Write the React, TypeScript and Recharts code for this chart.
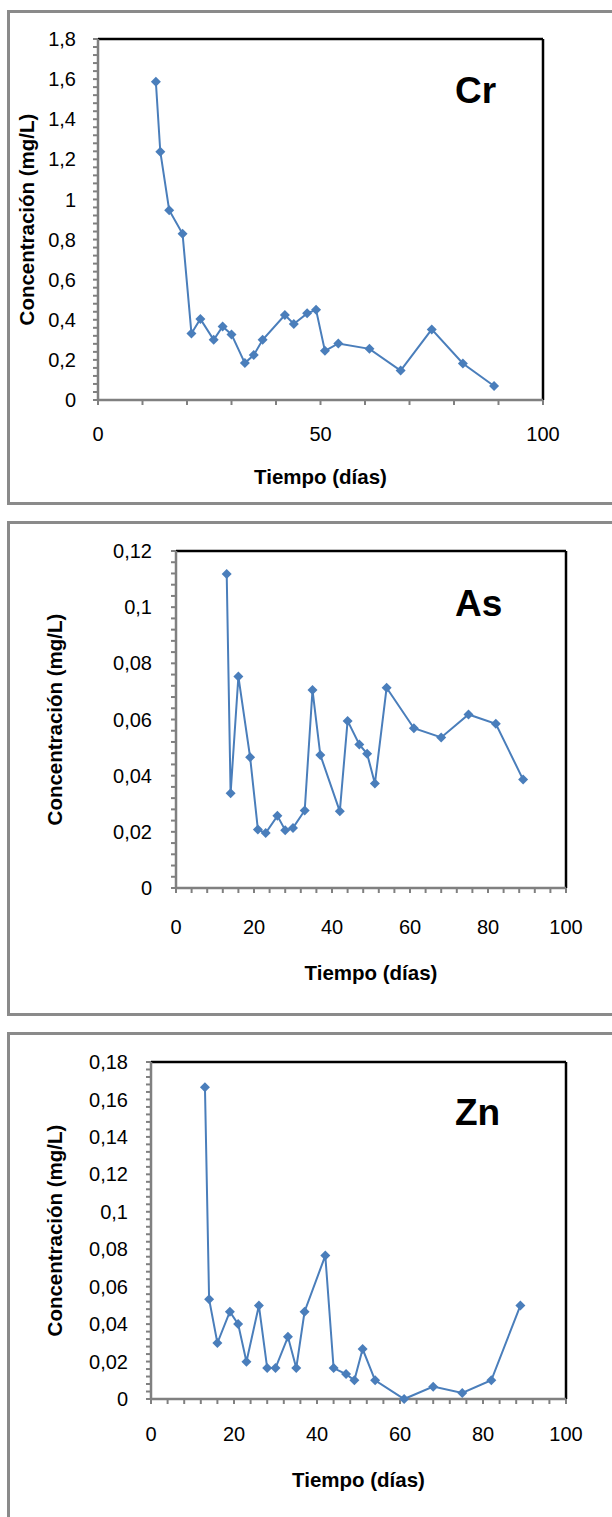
import React from 'react';
import { LineChart, Line, XAxis, YAxis, ReferenceLine, Customized } from 'recharts';

// sampling days shared by the three series
const DAYS = [13, 14, 16, 19, 21, 23, 26, 28, 30, 33, 35, 37, 42, 44, 47, 49, 51, 54, 61, 68, 75, 82, 89];

const CR = [1.587, 1.238, 0.946, 0.829, 0.332, 0.404, 0.3, 0.367, 0.327, 0.184, 0.224, 0.3, 0.424, 0.379, 0.432, 0.45, 0.245, 0.282, 0.255, 0.147, 0.352, 0.182, 0.07];
const AS = [0.1118, 0.0337, 0.0753, 0.0466, 0.0208, 0.0196, 0.0257, 0.0206, 0.0214, 0.0276, 0.0705, 0.0474, 0.0273, 0.0595, 0.0511, 0.0478, 0.0372, 0.0713, 0.0569, 0.0536, 0.0618, 0.0585, 0.0386];
const ZN = [0.1665, 0.0533, 0.0299, 0.0466, 0.04, 0.0199, 0.0499, 0.0165, 0.0165, 0.0332, 0.0165, 0.0466, 0.0766, 0.0165, 0.0133, 0.01, 0.0267, 0.01, 0, 0.0066, 0.0032, 0.01, 0.0499];

const CR_Y_LABELS = [0, 0.2, 0.4, 0.6, 0.8, 1, 1.2, 1.4, 1.6, 1.8];
const AS_Y_LABELS = [0, 0.02, 0.04, 0.06, 0.08, 0.1, 0.12];
const ZN_Y_LABELS = [0, 0.02, 0.04, 0.06, 0.08, 0.1, 0.12, 0.14, 0.16, 0.18];
const CR_X_LABELS = [0, 50, 100];
const X_LABELS = [0, 20, 40, 60, 80, 100];

const Y_TITLE = 'Concentración (mg/L)';
const X_TITLE = 'Tiempo (días)';

const FONT = '"Liberation Sans", Arial, sans-serif';
const BLUE = '#4a7ebb';
const AXIS = '#808080';
const FRAME = '#8a8a8a';

// minor ticks: five per major interval, as Excel does
const subdivide = (labels: number[]) => {
  const out: number[] = [];
  for (let i = 0; i < labels.length - 1; i++) {
    const step = (labels[i + 1] - labels[i]) / 5;
    for (let k = 0; k < 5; k++) out.push(+(labels[i] + k * step).toFixed(6));
  }
  out.push(labels[labels.length - 1]);
  return out;
};

const fmt = (labels: number[]) => (v: number) =>
  labels.some((l) => Math.abs(l - v) < 1e-9) ? String(+v.toFixed(4)).replace('.', ',') : '';

const Diamond = (props: any) => {
  const { cx, cy, index } = props;
  if (cx == null || cy == null) return null;
  const r = 5;
  return <path key={`dm-${index}`} d={`M${cx},${cy - r}L${cx + r},${cy}L${cx},${cy + r}L${cx - r},${cy}Z`} fill={BLUE} />;
};

type PanelCfg = {
  name: string;
  values: number[];
  yLabels: number[];
  xLabels: number[];
  top: number;
  height: number;
  left: number;
  right: number;
  plotTop: number;
  plotBottom: number;
  yTitleX: number;
  xTitleY: number;
  yTickMargin: number;
  xTickMargin: number;
  nameY: number;
};

const PANELS: PanelCfg[] = [
  { name: 'Cr', values: CR, yLabels: CR_Y_LABELS, xLabels: CR_X_LABELS, top: 0, height: 500, left: 98, right: 543, plotTop: 39, plotBottom: 400, yTitleX: 27, xTitleY: 484, yTickMargin: 17, xTickMargin: 22, nameY: 103 },
  { name: 'As', values: AS, yLabels: AS_Y_LABELS, xLabels: X_LABELS, top: 522, height: 490, left: 176, right: 566, plotTop: 29, plotBottom: 366, yTitleX: 55, xTitleY: 458, yTickMargin: 19, xTickMargin: 27, nameY: 94 },
  { name: 'Zn', values: ZN, yLabels: ZN_Y_LABELS, xLabels: X_LABELS, top: 1033, height: 484, left: 151, right: 566, plotTop: 29, plotBottom: 366, yTitleX: 55, xTitleY: 454, yTickMargin: 18, xTickMargin: 23, nameY: 92 },
];

function Panel({ p }: { p: PanelCfg }) {
  const data = DAYS.map((d, i) => ({ day: d, value: p.values[i] }));
  const yMax = p.yLabels[p.yLabels.length - 1];
  const cy = (p.plotTop + p.plotBottom) / 2;
  return (
    <div style={{ position: 'absolute', left: 0, top: p.top }}>
      <LineChart width={612} height={p.height} data={data} margin={{ top: p.plotTop, right: 612 - p.right, left: 0, bottom: 0 }}>
        <ReferenceLine y={yMax} stroke="#000" strokeWidth={2.5} />
        <ReferenceLine x={100} stroke="#000" strokeWidth={2.5} />
        <XAxis
          type="number"
          dataKey="day"
          domain={[0, 100]}
          ticks={subdivide(p.xLabels)}
          interval={0}
          tickFormatter={fmt(p.xLabels)}
          height={p.height - p.plotBottom}
          tickSize={5}
          tickMargin={p.xTickMargin}
          axisLine={{ stroke: AXIS, strokeWidth: 2.5 }}
          tickLine={{ stroke: AXIS, strokeWidth: 2 }}
          tick={{ fill: '#000', fontSize: 20, fontFamily: FONT }}
          label={() => (
            <text x={(p.left + p.right) / 2} y={p.xTitleY} textAnchor="middle" fontSize={20.5} fontWeight="bold" fontFamily={FONT} fill="#000">
              {X_TITLE}
            </text>
          )}
        />
        <YAxis
          type="number"
          domain={[0, yMax]}
          ticks={subdivide(p.yLabels)}
          interval={0}
          tickFormatter={fmt(p.yLabels)}
          width={p.left}
          tickSize={5}
          tickMargin={p.yTickMargin}
          axisLine={{ stroke: AXIS, strokeWidth: 2.5 }}
          tickLine={{ stroke: AXIS, strokeWidth: 2 }}
          tick={{ fill: '#000', fontSize: 20, fontFamily: FONT }}
          label={() => (
            <text x={p.yTitleX} y={cy} dy="0.35em" textAnchor="middle" transform={`rotate(-90 ${p.yTitleX} ${cy})`} fontSize={20.5} fontWeight="bold" fontFamily={FONT} fill="#000">
              {Y_TITLE}
            </text>
          )}
        />
        <Line type="linear" dataKey="value" stroke={BLUE} strokeWidth={2} dot={Diamond} activeDot={false} isAnimationActive={false} />
        <Customized
          component={() => (
            <text x={455} y={p.nameY} fontSize={37} fontWeight="bold" fontFamily={FONT} fill="#000">
              {p.name}
            </text>
          )}
        />
      </LineChart>
    </div>
  );
}

export default function App() {
  return (
    <div style={{ position: 'absolute', left: 0, top: 0, width: 612, height: 1517, overflow: 'hidden', background: '#fff' }}>
      <div style={{ position: 'absolute', left: 7, top: 10, width: 640, height: 489, border: `3px solid ${FRAME}` }} />
      <div style={{ position: 'absolute', left: 7, top: 521, width: 640, height: 489, border: `3px solid ${FRAME}` }} />
      <div style={{ position: 'absolute', left: 7, top: 1032, width: 640, height: 520, border: `3px solid ${FRAME}` }} />
      {PANELS.map((p) => (
        <Panel key={p.name} p={p} />
      ))}
    </div>
  );
}
